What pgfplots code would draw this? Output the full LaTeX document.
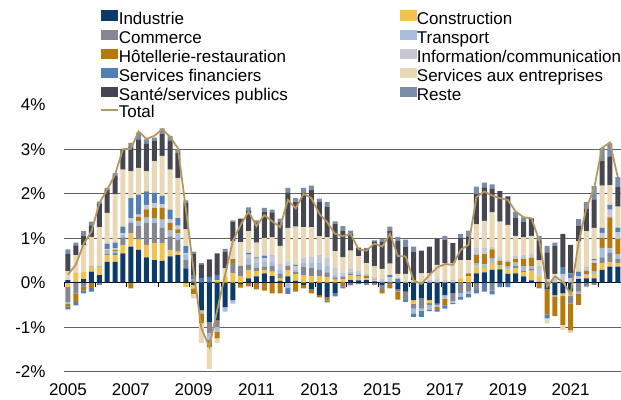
\documentclass[border=0pt]{standalone}
\usepackage{fontspec}
\setmainfont{Liberation Sans}
\usepackage{pgfplots}
\usepackage{pgfplotstable}
\pgfplotsset{compat=1.18}

\definecolor{cInd}{RGB}{12,58,105}
\definecolor{cCon}{RGB}{242,194,80}
\definecolor{cCom}{RGB}{134,134,144}
\definecolor{cTra}{RGB}{168,189,217}
\definecolor{cHot}{RGB}{183,122,10}
\definecolor{cInf}{RGB}{200,200,212}
\definecolor{cFin}{RGB}{82,128,182}
\definecolor{cEnt}{RGB}{233,216,182}
\definecolor{cSan}{RGB}{70,70,80}
\definecolor{cRes}{RGB}{122,140,166}
\definecolor{cTot}{RGB}{181,152,96}

\pgfplotstableread{
i ind con com tra hot inf fin ent san res tot
0 0.06 -0.09 -0.34 -0.05 -0.06 0.00 -0.06 0.20 0.39 0.10 0.18
1 0.02 0.20 -0.24 0.00 -0.19 0.00 -0.08 0.40 0.22 0.06 0.40
2 0.08 0.17 -0.09 0.00 -0.08 0.00 -0.07 0.59 0.22 0.10 0.87
3 0.25 0.10 0.00 0.02 -0.12 0.02 -0.08 0.64 0.26 0.08 1.15
4 0.17 0.18 -0.05 0.02 0.00 0.02 0.00 0.86 0.52 0.05 1.79
5 0.47 0.15 0.03 0.05 0.02 0.04 0.12 0.69 0.52 0.04 2.09
6 0.47 0.15 0.05 0.04 0.03 0.03 0.13 1.09 0.42 0.05 2.43
7 0.66 0.19 0.17 0.06 0.00 0.03 0.15 1.28 0.45 0.02 3.00
8 0.81 0.30 0.23 0.06 -0.13 0.05 0.45 0.60 0.56 0.08 3.01
9 0.74 0.23 0.30 0.11 0.10 0.05 0.45 0.60 0.64 0.15 3.40
10 0.57 0.28 0.50 0.11 0.19 0.10 0.30 0.45 0.62 0.10 3.23
11 0.51 0.38 0.45 0.11 0.23 0.10 0.24 0.71 0.45 0.08 3.30
12 0.49 0.40 0.34 0.19 0.26 0.08 0.19 0.90 0.49 0.13 3.45
13 0.59 0.15 0.30 0.13 0.17 0.09 0.21 0.90 0.66 0.10 3.28
14 0.62 0.08 0.26 0.15 0.09 0.08 0.17 0.90 0.56 0.08 3.02
15 0.32 -0.10 0.19 0.11 0.00 0.05 0.15 0.38 0.60 0.05 1.68
16 -0.05 -0.08 0.05 0.00 -0.12 0.02 0.10 -0.10 0.48 0.05 0.28
17 -0.62 -0.04 0.00 -0.03 -0.22 0.00 0.11 -0.45 0.30 0.03 -1.03
18 -0.88 0.00 -0.26 -0.15 -0.15 0.00 0.13 -0.50 0.39 0.01 -1.44
19 -0.84 0.06 -0.15 -0.11 -0.15 0.00 0.11 -0.11 0.49 0.00 -0.62
20 -0.55 0.13 0.00 -0.10 0.00 0.00 0.00 0.19 0.38 0.06 0.17
21 -0.39 0.21 0.23 -0.08 0.09 0.00 0.00 0.40 0.43 0.04 0.94
22 -0.03 0.15 0.23 0.00 -0.08 0.00 0.00 0.53 0.53 0.00 1.30
23 0.10 0.19 0.11 0.15 -0.08 0.08 0.04 0.49 0.45 0.08 1.60
24 0.14 0.12 0.08 0.10 -0.15 0.10 0.03 0.33 0.45 0.05 1.27
25 0.21 0.08 0.07 0.10 -0.18 0.09 0.06 0.39 0.60 0.08 1.52
26 0.15 0.10 0.12 0.10 -0.24 0.12 0.02 0.41 0.56 0.06 1.38
27 0.04 0.05 0.11 0.10 -0.24 0.12 0.00 0.41 0.53 0.08 1.25
28 0.14 0.14 0.10 -0.12 0.00 0.10 -0.13 0.75 0.79 0.11 1.86
29 0.04 0.15 0.06 0.05 -0.20 0.08 0.02 0.86 0.56 0.08 1.67
30 -0.05 0.17 0.19 0.08 -0.08 0.11 0.00 0.70 0.77 0.11 2.00
31 -0.15 0.14 0.19 0.11 -0.09 0.15 0.00 0.66 0.84 0.09 1.90
32 -0.28 0.14 0.15 0.15 -0.05 0.19 0.00 0.41 0.77 0.08 1.55
33 -0.32 0.13 0.10 0.15 -0.08 0.19 -0.04 0.45 0.69 0.10 1.36
34 -0.23 0.07 0.05 0.06 0.00 0.15 -0.08 0.38 0.62 0.05 1.10
35 0.00 0.08 0.05 0.02 -0.08 0.08 -0.05 0.34 0.60 0.10 1.05
36 0.06 0.11 0.03 0.05 -0.03 0.06 -0.03 0.41 0.38 0.07 1.09
37 0.05 0.10 0.02 0.03 0.00 0.06 -0.03 0.34 0.19 0.00 0.75
38 0.06 0.02 -0.05 0.02 0.06 0.04 0.00 0.24 0.32 0.02 0.72
39 0.03 0.02 -0.05 0.03 0.00 0.06 0.00 0.23 0.56 0.02 0.88
40 -0.05 0.00 -0.11 0.04 -0.08 0.06 0.00 0.21 0.60 0.08 0.81
41 -0.02 0.02 -0.03 0.03 -0.08 0.07 0.05 0.26 0.74 0.09 1.10
42 -0.15 0.00 -0.05 0.00 -0.18 0.00 0.09 0.11 0.74 0.09 0.60
43 -0.20 0.00 -0.19 0.00 0.00 0.00 -0.04 0.20 0.60 0.17 0.59
44 -0.39 -0.08 -0.11 -0.11 0.00 0.00 -0.08 0.06 0.64 0.11 0.05
45 -0.35 0.00 -0.23 -0.05 0.00 0.00 -0.14 0.21 0.51 0.00 -0.03
46 -0.39 -0.07 -0.05 -0.10 0.00 0.06 -0.03 0.15 0.60 0.00 0.17
47 -0.47 0.00 -0.03 -0.05 -0.06 0.10 -0.04 0.30 0.58 0.00 0.34
48 -0.28 0.00 0.00 -0.08 -0.15 0.06 -0.07 0.38 0.53 0.08 0.42
49 -0.24 0.00 -0.17 -0.04 0.00 0.06 -0.03 0.38 0.45 0.00 0.40
50 0.00 0.10 -0.24 -0.08 0.00 0.00 -0.06 0.41 0.49 0.09 0.74
51 0.00 0.15 -0.20 -0.05 0.06 0.00 -0.08 0.30 0.53 0.13 0.85
52 0.21 0.15 -0.16 0.08 0.19 0.15 -0.08 0.53 0.68 0.17 1.92
53 0.23 0.10 0.00 0.08 0.23 0.15 -0.20 0.60 0.75 0.11 2.05
54 0.29 0.15 -0.17 0.11 0.20 0.05 -0.09 0.78 0.53 0.10 1.96
55 0.30 0.03 0.00 0.06 0.10 0.09 -0.10 0.79 0.69 0.00 1.90
56 0.20 0.10 0.00 0.06 0.11 0.04 -0.10 0.79 0.64 0.00 1.86
57 0.21 0.11 0.05 0.08 0.08 0.07 0.00 0.45 0.41 0.13 1.60
58 0.14 0.10 0.03 0.10 0.17 0.08 0.00 0.40 0.35 0.10 1.47
59 0.05 0.22 0.04 0.06 0.19 0.08 0.00 0.41 0.38 0.02 1.45
60 0.02 0.14 0.00 0.02 -0.13 0.19 0.00 0.13 0.45 0.10 0.95
61 -0.15 0.00 0.00 0.00 -0.56 0.08 -0.09 -0.12 0.60 0.15 -0.09
62 -0.28 0.00 0.00 -0.03 -0.44 0.10 0.00 0.10 0.62 0.08 0.14
63 -0.24 -0.06 0.00 0.00 -0.65 0.20 0.15 -0.11 0.75 0.00 0.02
64 -0.20 -0.10 -0.17 0.00 -0.60 0.10 0.11 -0.06 0.64 0.00 -0.25
65 0.08 0.00 -0.20 -0.05 -0.25 0.06 0.11 0.68 0.34 0.16 0.89
66 0.10 0.06 -0.09 0.03 0.08 0.05 0.02 0.82 0.50 0.15 1.68
67 0.10 0.10 -0.05 0.05 0.19 0.06 0.03 0.70 0.64 0.30 2.13
68 0.29 0.15 0.13 0.21 0.23 0.11 0.11 0.95 0.55 0.30 3.03
69 0.36 0.11 0.20 0.10 0.70 0.17 0.11 0.44 0.64 0.30 3.15
70 0.36 0.08 0.10 0.10 0.34 0.15 0.11 0.47 0.45 0.21 2.37
}\datatable

\newcommand{\lblfont}{\fontsize{17bp}{20bp}\selectfont}

\pgfplotsset{
  base/.style={scale only axis, width=557bp, height=267bp,
    xmin=-0.5, xmax=70.41, ymin=-2, ymax=4,
    at={(0bp,0bp)}, anchor=south west, enlargelimits=false},
  rectleg/.style={legend image code/.code={\fill[##1] (0bp,0bp) rectangle (17bp,10.5bp);}},
  lineleg/.style={legend image code/.code={\draw[##1] (0bp,4.5bp) -- (17bp,4.5bp);}},
}

\begin{document}
\begin{tikzpicture}
\path[use as bounding box] (-64bp,-28.3bp) rectangle (557bp,371.7bp);

% axis A: grid, labels, negative contributions
\begin{axis}[base, ybar stacked, bar width=5bp,
  axis line style={draw=none}, tick style={draw=none},
  ytick={-2,-1,0,1,2,3}, yticklabels={-2\%,-1\%,0\%,1\%,2\%,3\%},
  extra y ticks={4}, extra y tick labels={4\%}, extra y tick style={grid=none},
  ymajorgrids, major grid style={black!62, line width=1bp},
  xtick={0,8,16,24,32,40,48,56,64},
  xticklabels={2005,2007,2009,2011,2013,2015,2017,2019,2021},
  yticklabel style={anchor=base east, inner sep=0pt, xshift=-18.3bp, yshift=-6.1bp, font=\lblfont},
  xticklabel style={anchor=base, inner sep=0pt, yshift=-23.8bp, font=\lblfont},
]
\pgfplotsinvokeforeach{-0.5,3.5,7.5,11.5,15.5,19.5,23.5,27.5,31.5,35.5,39.5,43.5,47.5,51.5,55.5,59.5,63.5,67.5}{
  \draw[black, line width=0.8bp] (axis cs:#1,0) -- ++(0bp,-4bp);
}
\draw[black, line width=1bp] (axis cs:-0.5,0) -- (axis cs:70.41,0);
\addplot[fill=cInd, draw=none] table[x=i, y expr={min(\thisrow{ind},0)}]{\datatable};
\addplot[fill=cCon, draw=none] table[x=i, y expr={min(\thisrow{con},0)}]{\datatable};
\addplot[fill=cCom, draw=none] table[x=i, y expr={min(\thisrow{com},0)}]{\datatable};
\addplot[fill=cTra, draw=none] table[x=i, y expr={min(\thisrow{tra},0)}]{\datatable};
\addplot[fill=cHot, draw=none] table[x=i, y expr={min(\thisrow{hot},0)}]{\datatable};
\addplot[fill=cInf, draw=none] table[x=i, y expr={min(\thisrow{inf},0)}]{\datatable};
\addplot[fill=cFin, draw=none] table[x=i, y expr={min(\thisrow{fin},0)}]{\datatable};
\addplot[fill=cEnt, draw=none] table[x=i, y expr={min(\thisrow{ent},0)}]{\datatable};
\addplot[fill=cSan, draw=none] table[x=i, y expr={min(\thisrow{san},0)}]{\datatable};
\addplot[fill=cRes, draw=none] table[x=i, y expr={min(\thisrow{res},0)}]{\datatable};
\end{axis}

% axis B: positive contributions
\begin{axis}[base, ybar stacked, bar width=5bp, hide axis]
\addplot[fill=cInd, draw=none] table[x=i, y expr={max(\thisrow{ind},0)}]{\datatable};
\addplot[fill=cCon, draw=none] table[x=i, y expr={max(\thisrow{con},0)}]{\datatable};
\addplot[fill=cCom, draw=none] table[x=i, y expr={max(\thisrow{com},0)}]{\datatable};
\addplot[fill=cTra, draw=none] table[x=i, y expr={max(\thisrow{tra},0)}]{\datatable};
\addplot[fill=cHot, draw=none] table[x=i, y expr={max(\thisrow{hot},0)}]{\datatable};
\addplot[fill=cInf, draw=none] table[x=i, y expr={max(\thisrow{inf},0)}]{\datatable};
\addplot[fill=cFin, draw=none] table[x=i, y expr={max(\thisrow{fin},0)}]{\datatable};
\addplot[fill=cEnt, draw=none] table[x=i, y expr={max(\thisrow{ent},0)}]{\datatable};
\addplot[fill=cSan, draw=none] table[x=i, y expr={max(\thisrow{san},0)}]{\datatable};
\addplot[fill=cRes, draw=none] table[x=i, y expr={max(\thisrow{res},0)}]{\datatable};
\end{axis}

% axis C: total line and legend
\begin{axis}[base, hide axis,
  legend columns=2, legend cell align=left,
  legend style={at={(axis description cs:0.0646,1.353)}, anchor=north west,
    draw=none, fill=none, inner sep=0pt, outer sep=0pt,
    row sep=0pt, column sep=0pt, font=\lblfont,
    nodes={inner sep=0pt, text height=11.9bp, text depth=5.3bp},
    /tikz/every even column/.append style={column sep=112bp}},
  legend entries={Industrie,Construction,Commerce,Transport,H\^otellerie-restauration,Information/communication,Services financiers,Services aux entreprises,Santé/services publics,Reste,Total},
]
\addlegendimage{rectleg, fill=cInd, draw=none}
\addlegendimage{rectleg, fill=cCon, draw=none}
\addlegendimage{rectleg, fill=cCom, draw=none}
\addlegendimage{rectleg, fill=cTra, draw=none}
\addlegendimage{rectleg, fill=cHot, draw=none}
\addlegendimage{rectleg, fill=cInf, draw=none}
\addlegendimage{rectleg, fill=cFin, draw=none}
\addlegendimage{rectleg, fill=cEnt, draw=none}
\addlegendimage{rectleg, fill=cSan, draw=none}
\addlegendimage{rectleg, fill=cRes, draw=none}
\addplot[cTot, line width=1.8bp, mark=none, lineleg] table[x=i, y=tot]{\datatable};
\end{axis}
\end{tikzpicture}
\end{document}
